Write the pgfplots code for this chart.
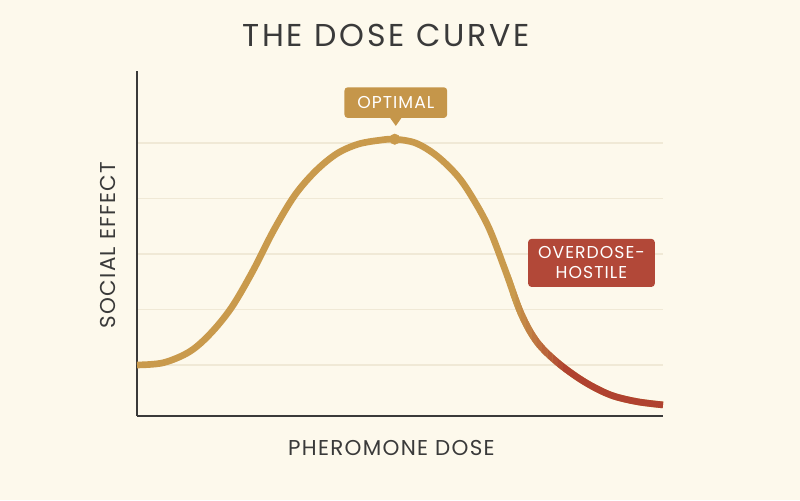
\documentclass[border=0pt]{standalone}
\usepackage{pgfplots}
\pgfplotsset{compat=1.18}
\usepackage{fontspec}
\setmainfont{Poppins}
\newfontfamily\titlefont[LetterSpace=9]{Poppins}
\newfontfamily\labfont[LetterSpace=6]{Poppins}

\definecolor{bg}{RGB}{253,249,236}
\definecolor{ink}{RGB}{58,58,58}
\definecolor{gold}{RGB}{201,154,76}
\definecolor{boxgold}{RGB}{197,150,74}
\definecolor{hostile}{RGB}{176,66,48}
\definecolor{boxred}{RGB}{178,72,56}
\definecolor{gridc}{RGB}{240,233,214}

% curve (x: dose 0-100, y: effect in grid units)
\pgfplotstableread{
x y
0 1.00
5 1.04
10 1.24
14 1.57
18 2.04
22 2.69
26 3.43
30 4.06
34 4.50
38 4.81
42 4.98
46 5.05
49 5.07
53 5.00
57 4.77
61 4.40
64 3.98
67 3.45
70 2.71
73 1.93
76 1.42
80 1.04
85 0.70
90 0.46
95 0.34
100 0.28
}\dose

\begin{document}
\begin{tikzpicture}
\fill[bg] (0,0) rectangle (600pt,375pt);

\begin{axis}[
  at={(102.75pt,63pt)}, anchor=south west,
  scale only axis,
  width=394.5pt, height=258.75pt,
  xmin=0, xmax=100,
  ymin=0.08, ymax=6.3,
  axis lines=left,
  axis line style={draw=ink, line width=1.6pt, -},
  xtick=\empty,
  ytick={1,2,3,4,5},
  yticklabels={},
  major tick length=0pt,
  ymajorgrids,
  grid style={draw=gridc, line width=1pt},
  clip=false,
  curve/.style={line width=5pt, line cap=butt, smooth, tension=0.55},
]
\addplot[draw=gold, curve] table[x=x, y=y] {\dose};
% gold to red fade along the falling tail
\pgfplotsinvokeforeach{0,...,9}{
  \begin{scope}
    \clip (axis cs:71+#1,-1) rectangle (axis cs:72+#1,7);
    \addplot[draw=hostile!#10!gold, curve] table[x=x, y=y] {\dose};
  \end{scope}
}
\begin{scope}
  \clip (axis cs:81,-1) rectangle (axis cs:103,7);
  \addplot[draw=hostile, curve] table[x=x, y=y] {\dose};
\end{scope}
% peak marker
\addplot[only marks, mark=*, mark size=3.9pt, color=gold] coordinates {(49,5.07)};

% OPTIMAL callout
\fill[boxgold] (axis cs:48.0,5.47) -- (axis cs:50.4,5.47) -- (axis cs:49.2,5.31) -- cycle;
\node[fill=boxgold, rounded corners=2.5pt, minimum width=77pt, minimum height=23pt,
  inner sep=0pt, text=white, font=\labfont\fontsize{12.9}{15}\selectfont]
  at (axis cs:49.2,5.73) {OPTIMAL};

% OVERDOSE box
\node[fill=boxred, rounded corners=2.5pt, minimum width=95pt, minimum height=36pt,
  inner sep=0pt, text=white, align=center,
  font=\labfont\fontsize{12.9}{15}\selectfont]
  at (axis cs:86.4,2.84) {OVERDOSE-\\HOSTILE};
\end{axis}

\node[anchor=base, text=ink, font=\titlefont\fontsize{23.7}{28}\selectfont]
  at (289.5pt,339.75pt) {THE DOSE CURVE};
\node[anchor=base, text=ink, font=\labfont\fontsize{16.1}{19}\selectfont]
  at (293.6pt,33pt) {PHEROMONE DOSE};
\node[anchor=base, rotate=90, text=ink, font=\labfont\fontsize{16.1}{19}\selectfont]
  at (86.25pt,191.25pt) {SOCIAL EFFECT};
\end{tikzpicture}
\end{document}
